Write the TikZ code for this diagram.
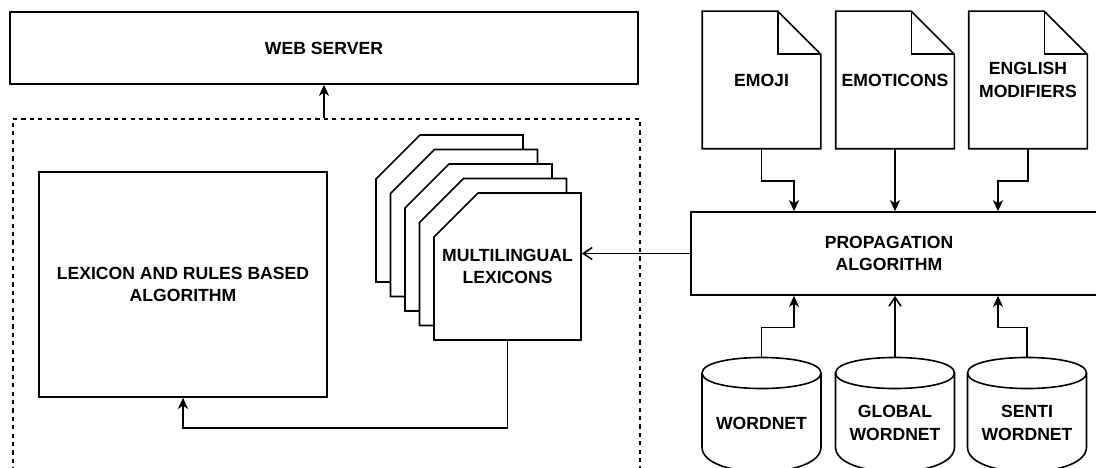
\documentclass[tikz,border=0pt]{standalone}
\usepackage{fontspec}
\setmainfont{Liberation Sans}
\usetikzlibrary{arrows.meta,calc}

% outline of a page with a folded top-right corner, drawn round a named node
\newcommand\docoutline[1]{%
  \draw (#1.north west) -- ([xshift=-43pt]#1.north east)
        -- ([yshift=-43pt]#1.north east) -- (#1.south east)
        -- (#1.south west) -- cycle;
  \draw ([xshift=-43pt]#1.north east) -- ([xshift=-43pt,yshift=-43pt]#1.north east)
        -- ([yshift=-43pt]#1.north east);}

\begin{document}
\begin{tikzpicture}[x=1pt,y=-1pt,line width=1.6pt,
  every node/.style={font=\bfseries\fontsize{17.6}{22.5}\selectfont,align=center,inner sep=0pt},
  box/.style={draw,fill=white,rectangle},
  doc/.style={rectangle,minimum width=117pt,minimum height=136pt},
  flow/.style={-{Stealth[length=11pt,width=10pt,inset=3pt]}},
  openflow/.style={-{Straight Barb[length=9pt,width=12pt]}},
  grp/.style={draw,dash pattern=on 4.2pt off 4.2pt,rectangle}]

\useasboundingbox (0,0) rectangle (1096,468);
\clip (0,0) rectangle (1096,468);

% --- left part: web server and the service group ---
\node[box,minimum width=628pt,minimum height=72pt] (web) at (324,48) {WEB SERVER};
\node[grp,minimum width=627pt,minimum height=380pt,anchor=north west] (group) at (12,118) {};
\draw[flow] (web.south |- group.north) -- (web.south);

\node[box,minimum width=288pt,minimum height=225pt] (lex) at (183,284.5)
  {LEXICON AND RULES BASED\\ALGORITHM};

% stack of lexicon cards, back to front
\foreach \k in {4,3,2,1,0}{
  \draw[fill=white,shift={({-14.5*\k},{-14.5*\k})}]
    (434,237) -- (478,193) -- (581,193) -- (581,340) -- (434,340) -- cycle;
}
\node[minimum width=147pt,minimum height=147pt] (multi) at (507.5,266.5)
  {MULTILINGUAL\\LEXICONS};

\draw[flow] (multi.south) -- ++(0,87) -| (lex.south);

% --- right part: propagation and its sources ---
\node[box,minimum width=420pt,minimum height=83pt,anchor=west] (prop) at (690,253.5) {};
\node (proplbl) at (889,253.5) {PROPAGATION\\ALGORITHM};
\draw[openflow] (prop.west) -- (prop.west -| multi.east);

\node[doc] (emoji) at (761.5,80) {EMOJI};
\node[doc] (emot) at (895,80) {EMOTICONS};
\node[doc] (engl) at (1028,80) {ENGLISH\\MODIFIERS};
\docoutline{emoji}
\docoutline{emot}
\docoutline{engl}

\draw[flow] (emoji.south) -- ++(0,32) -| ([xshift=104pt]prop.north west);
\draw[flow] (emot.south) -- (emot.south |- prop.north);
\draw[flow] (engl.south) -- ++(0,32) -| ([xshift=308pt]prop.north west);

% databases
\foreach \cx/\nm/\txt in {761.5/wn/WORDNET,895/gwn/{GLOBAL\\WORDNET},1027/swn/{SENTI\\WORDNET}}{
  \draw ({\cx-59.5},373) .. controls ({\cx-59.5},352.3) and ({\cx+59.5},352.3) .. ({\cx+59.5},373)
        -- ({\cx+59.5},447) .. controls ({\cx+59.5},480) and ({\cx-59.5},480) .. ({\cx-59.5},447)
        -- cycle;
  \draw ({\cx-59.5},373) .. controls ({\cx-59.5},393.7) and ({\cx+59.5},393.7) .. ({\cx+59.5},373);
  \coordinate (\nm top) at (\cx,357.5);
  \node (\nm) at (\cx,423) {\txt};
}

\draw[flow] (wntop) -- ++(0,-30) -| ([xshift=104pt]prop.south west);
\draw[openflow] (gwntop) -- (gwntop |- prop.south);
\draw[flow] (swntop) -- ++(0,-30) -| ([xshift=308pt]prop.south west);

\end{tikzpicture}
\end{document}
